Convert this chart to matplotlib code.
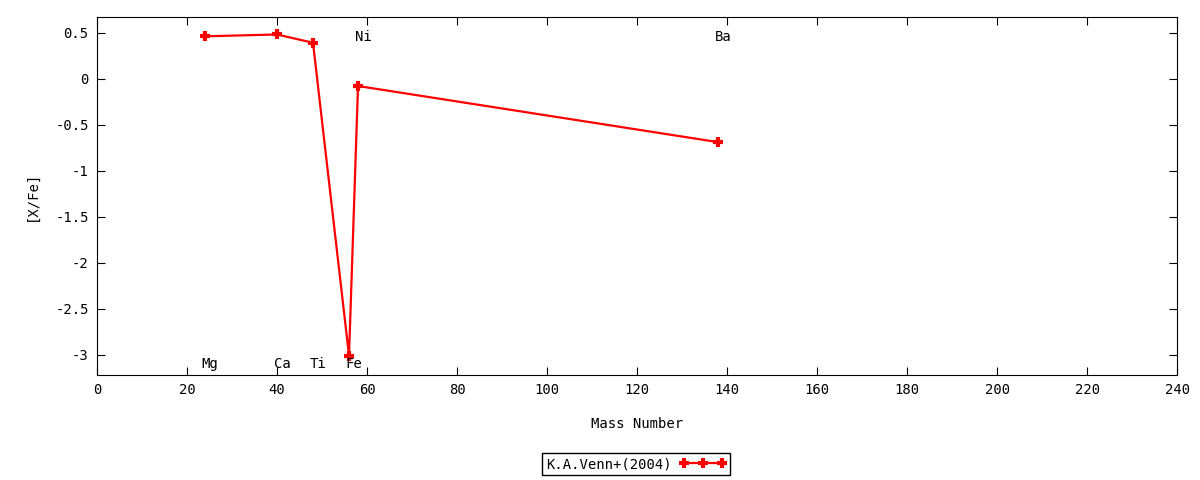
import matplotlib
matplotlib.use("Agg")
import matplotlib.pyplot as plt
from matplotlib.ticker import MultipleLocator, FormatStrFormatter

plt.rcParams['font.family'] = ['DejaVu Sans Mono']
plt.rcParams['axes.unicode_minus'] = False

# abundance data
elements = ['Mg', 'Ca', 'Ti', 'Fe', 'Ni', 'Ba']
mass = [24, 40, 48, 56, 58, 138]
x_fe = [0.46, 0.48, 0.39, -3.01, -0.08, -0.69]
label_y = [-3.1, -3.1, -3.1, -3.1, 0.45, 0.45]

fig = plt.figure(figsize=(12, 4.8), dpi=100)
ax = fig.add_axes([0.0808, 0.2188, 0.9002, 0.7458])

ax.plot(mass, x_fe, color='red', lw=1.6, marker='+', ms=7.5, mew=3,
        label='K.A.Venn+(2004)')

for el, m, ly in zip(elements, mass, label_y):
    ax.text(m - 0.7, ly, el, fontsize=10, ha='left', va='center')

ax.set_xlim(0, 240)
ax.set_ylim(-3.22, 0.67)
ax.xaxis.set_major_locator(MultipleLocator(20))
ax.yaxis.set_major_locator(MultipleLocator(0.5))
ax.yaxis.set_major_formatter(FormatStrFormatter('%g'))
ax.tick_params(direction='in', top=True, right=True, length=6, labelsize=10, pad=6)

ax.set_xlabel('Mass Number', fontsize=10, labelpad=14)
ax.set_ylabel('[X/Fe]', fontsize=10, labelpad=12)

leg = ax.legend(loc='center', bbox_to_anchor=(0.499, -0.249), numpoints=3,
                markerfirst=False, fancybox=False, edgecolor='black',
                framealpha=1, fontsize=10, handlelength=3.3,
                borderpad=0.3, borderaxespad=0, handletextpad=0.6)
leg.get_frame().set_linewidth(1)

fig.savefig('out.png', dpi=100)
